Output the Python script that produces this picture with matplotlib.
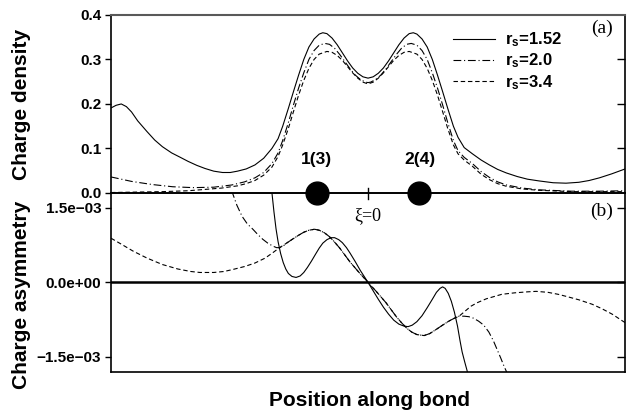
import matplotlib
matplotlib.use('Agg')
from matplotlib import pyplot as plt
from matplotlib.ticker import FixedLocator, FixedFormatter
import numpy as np

plt.rcParams['font.family'] = ['Liberation Sans', 'DejaVu Sans']
plt.rcParams['font.weight'] = 'bold'
plt.rcParams['mathtext.fontset'] = 'custom'
plt.rcParams['mathtext.bf'] = 'Liberation Sans:bold'
plt.rcParams['mathtext.rm'] = 'Liberation Sans:bold'

# charge density, panel (a)
x_a152 = [-5.0, -4.9, -4.8, -4.7, -4.6, -4.48, -4.3, -4.15, -4.0, -3.82, -3.65, -3.5, -3.33, -3.17,
          -3.0, -2.83, -2.68, -2.54, -2.37, -2.2, -2.03, -1.87, -1.75, -1.66, -1.55, -1.45, -1.35,
          -1.25, -1.15, -1.05, -0.95, -0.88, -0.8, -0.7, -0.6, -0.5, -0.4, -0.3, -0.2, -0.1, 0.0,
          0.1, 0.2, 0.3, 0.4, 0.5, 0.6, 0.7, 0.8, 0.88, 0.95, 1.05, 1.15, 1.25, 1.35, 1.45, 1.55,
          1.66, 1.75, 1.87, 2.03, 2.2, 2.36, 2.52, 2.69, 2.9, 3.1, 3.33, 3.6, 3.85, 4.1, 4.3, 4.5,
          4.74, 5.0]
d_a152 = [0.191, 0.197, 0.200, 0.194, 0.182, 0.162, 0.138, 0.119, 0.104, 0.090, 0.080, 0.071, 0.062,
          0.055, 0.049, 0.046, 0.046, 0.049, 0.054, 0.063, 0.078, 0.100, 0.122, 0.150, 0.190, 0.228,
          0.265, 0.300, 0.328, 0.346, 0.357, 0.360, 0.358, 0.348, 0.333, 0.315, 0.297, 0.281, 0.269,
          0.261, 0.258, 0.261, 0.269, 0.281, 0.297, 0.315, 0.333, 0.348, 0.358, 0.360, 0.357, 0.346,
          0.328, 0.300, 0.265, 0.228, 0.190, 0.150, 0.125, 0.102, 0.088, 0.074, 0.063, 0.053, 0.045,
          0.037, 0.031, 0.027, 0.023, 0.022, 0.024, 0.028, 0.034, 0.043, 0.054]

x_a20 = [-5.0, -4.6, -4.2, -3.8, -3.4, -3.0, -2.65, -2.4, -2.2, -2.03, -1.87, -1.75, -1.66, -1.55,
         -1.45, -1.35, -1.25, -1.15, -1.05, -0.95, -0.84, -0.75, -0.65, -0.55, -0.45, -0.35, -0.25,
         -0.15, -0.05, 0.0, 0.05, 0.15, 0.25, 0.35, 0.45, 0.55, 0.65, 0.75, 0.84, 0.95, 1.05, 1.15,
         1.25, 1.35, 1.45, 1.55, 1.66, 1.75, 1.87, 2.03, 2.2, 2.36, 2.52, 2.69, 3.0, 3.33, 3.96,
         4.5, 5.0]
d_a20 = [0.036, 0.026, 0.019, 0.014, 0.012, 0.013, 0.018, 0.025, 0.034, 0.046, 0.066, 0.090, 0.118,
         0.158, 0.198, 0.236, 0.270, 0.300, 0.320, 0.332, 0.336, 0.334, 0.325, 0.311, 0.295, 0.279,
         0.265, 0.255, 0.249, 0.248, 0.249, 0.255, 0.265, 0.279, 0.295, 0.311, 0.325, 0.334, 0.336,
         0.332, 0.320, 0.300, 0.270, 0.236, 0.198, 0.158, 0.118, 0.095, 0.080, 0.066, 0.048, 0.035,
         0.025, 0.018, 0.011, 0.007, 0.004, 0.004, 0.005]

x_a34 = [-5.0, -4.5, -4.0, -3.5, -3.17, -2.85, -2.54, -2.37, -2.2, -2.03, -1.87, -1.75, -1.66, -1.55,
         -1.45, -1.35, -1.25, -1.15, -1.05, -0.95, -0.8, -0.7, -0.6, -0.5, -0.4, -0.3, -0.2, -0.1,
         0.0, 0.1, 0.2, 0.3, 0.4, 0.5, 0.6, 0.7, 0.8, 0.95, 1.05, 1.15, 1.25, 1.35, 1.45, 1.55,
         1.66, 1.75, 1.87, 2.03, 2.2, 2.36, 2.52, 2.69, 3.0, 3.33, 3.96, 4.5, 5.0]
d_a34 = [0.001, 0.002, 0.003, 0.005, 0.008, 0.011, 0.016, 0.021, 0.028, 0.040, 0.058, 0.082, 0.108,
         0.145, 0.183, 0.220, 0.253, 0.280, 0.300, 0.312, 0.318, 0.316, 0.309, 0.298, 0.284, 0.270,
         0.258, 0.249, 0.245, 0.249, 0.258, 0.270, 0.284, 0.298, 0.309, 0.316, 0.318, 0.312, 0.300,
         0.280, 0.253, 0.220, 0.183, 0.145, 0.108, 0.088, 0.074, 0.060, 0.042, 0.030, 0.021, 0.015,
         0.009, 0.006, 0.003, 0.003, 0.003]

# charge asymmetry, panel (b), units of 1e-3
x_b152 = [-1.95, -1.9, -1.87, -1.83, -1.79, -1.75, -1.7, -1.65, -1.6, -1.55, -1.48, -1.4, -1.32,
          -1.25, -1.18, -1.1, -1.02, -0.95, -0.88, -0.8, -0.72, -0.65, -0.57, -0.5, -0.42, -0.35,
          -0.25, -0.15, -0.05, 0.0, 0.1, 0.2, 0.3, 0.4, 0.5, 0.6, 0.7, 0.78, 0.86, 0.95, 1.05,
          1.15, 1.25, 1.33, 1.4, 1.45, 1.5, 1.56, 1.62, 1.68, 1.74, 1.79, 1.83, 1.88, 1.93, 2.0]
d_b152 = [2.9, 2.15, 1.81, 1.42, 1.08, 0.82, 0.58, 0.40, 0.27, 0.18, 0.12, 0.10, 0.13,
          0.20, 0.30, 0.43, 0.57, 0.69, 0.79, 0.86, 0.90, 0.90, 0.86, 0.80, 0.70, 0.59,
          0.42, 0.24, 0.08, 0.0, -0.17, -0.34, -0.50, -0.64, -0.76, -0.84, -0.88, -0.89, -0.86,
          -0.79, -0.67, -0.51, -0.34, -0.20, -0.12, -0.09, -0.12, -0.22, -0.38, -0.60, -0.88,
          -1.18, -1.40, -1.60, -1.79, -2.2]

x_b20 = [-2.85, -2.75, -2.64, -2.55, -2.45, -2.35, -2.24, -2.15, -2.05, -1.95, -1.85, -1.78, -1.72,
         -1.65, -1.6, -1.47, -1.35, -1.25, -1.15, -1.04, -0.95, -0.85, -0.75, -0.65, -0.55, -0.45,
         -0.35, -0.25, -0.15, -0.05, 0.0, 0.05, 0.15, 0.25, 0.35, 0.45, 0.55, 0.65, 0.75, 0.85,
         0.95, 1.09, 1.2, 1.32, 1.45, 1.57, 1.68, 1.77, 1.87, 1.96, 2.05, 2.15, 2.25, 2.35, 2.44,
         2.51, 2.58, 2.65, 2.69, 2.75, 2.82]
d_b20 = [2.7, 2.2, 1.81, 1.55, 1.33, 1.18, 1.07, 0.97, 0.87, 0.79, 0.73, 0.70, 0.70,
         0.73, 0.78, 0.87, 0.95, 1.01, 1.05, 1.07, 1.05, 1.00, 0.92, 0.81, 0.69, 0.55,
         0.41, 0.29, 0.17, 0.06, 0.0, -0.06, -0.17, -0.29, -0.41, -0.55, -0.69, -0.81, -0.92, -1.00,
         -1.05, -1.07, -1.03, -0.95, -0.86, -0.78, -0.72, -0.68, -0.68, -0.69, -0.72, -0.78, -0.86,
         -1.0, -1.18, -1.35, -1.52, -1.70, -1.79, -2.05, -2.4]

x_b34 = [-5.0, -4.8, -4.57, -4.3, -4.0, -3.7, -3.45, -3.27, -3.0, -2.8, -2.63, -2.4, -2.2, -2.0,
         -1.85, -1.72, -1.6, -1.47, -1.35, -1.25, -1.15, -1.04, -0.95, -0.85, -0.75, -0.65, -0.55,
         -0.45, -0.35, -0.25, -0.15, -0.05, 0.0, 0.05, 0.15, 0.25, 0.35, 0.45, 0.55, 0.65, 0.75,
         0.85, 0.95, 1.09, 1.2, 1.32, 1.45, 1.57, 1.68, 1.77, 1.84, 1.92, 2.0, 2.12, 2.3, 2.6,
         2.85, 3.1, 3.27, 3.5, 3.7, 3.85, 4.1, 4.36, 4.55, 4.75, 5.0]
d_b34 = [0.89, 0.77, 0.63, 0.49, 0.36, 0.27, 0.22, 0.20, 0.20, 0.22, 0.26, 0.32, 0.39, 0.49,
         0.60, 0.70, 0.78, 0.87, 0.95, 1.01, 1.05, 1.07, 1.05, 1.00, 0.92, 0.81, 0.69,
         0.55, 0.41, 0.29, 0.17, 0.06, 0.0, -0.06, -0.17, -0.29, -0.41, -0.55, -0.69, -0.81, -0.92,
         -1.00, -1.05, -1.07, -1.03, -0.95, -0.86, -0.78, -0.72, -0.68, -0.62, -0.55, -0.48, -0.41,
         -0.33, -0.24, -0.21, -0.19, -0.18, -0.20, -0.24, -0.28, -0.35, -0.44, -0.53, -0.64, -0.81]

atoms_x = [-1.0, 1.0]
atom_labels = ['1(3)', '2(4)']
labels = [r'$\mathbf{r_s}$=1.52', r'$\mathbf{r_s}$=2.0', r'$\mathbf{r_s}$=3.4']
ticks_a = [0.0, 0.1, 0.2, 0.3, 0.4]
ticks_b = [1.5e-3, 0.0, -1.5e-3]
ticks_b_labels = ['1.5e\u221203', '0.0e+00', '\u22121.5e\u221203']

styles = [dict(ls='-'), dict(ls=(0, (7, 2.5, 1, 2.5))), dict(ls=(0, (4, 2.5)))]

fig = plt.figure(figsize=(6.27, 4.15), dpi=100)
ax1 = fig.add_axes([0.177, 0.535, 0.820, 0.429])
ax2 = fig.add_axes([0.177, 0.104, 0.820, 0.431])
ax1.set_zorder(3)
ax1.patch.set_visible(False)

for xs, ys, st, lab in zip([x_a152, x_a20, x_a34], [d_a152, d_a20, d_a34], styles, labels):
    ax1.plot(xs, ys, color='black', lw=0.8, label=lab, **st)
for xs, ys, st in zip([x_b152, x_b20, x_b34], [d_b152, d_b20, d_b34], styles):
    ax2.plot(xs, np.array(ys) * 1e-3, color='black', lw=0.8, **st)

ax2.axhline(0, color='black', lw=1.8)

ax1.set_xlim(-5, 5)
ax2.set_xlim(-5, 5)
ax1.set_ylim(0, 0.4)
ax2.set_ylim(-1.8e-3, 1.8e-3)

for ax in (ax1, ax2):
    ax.set_xticks([])
    for s in ax.spines.values():
        s.set_linewidth(1.2)
    ax.tick_params(axis='y', which='both', direction='out', length=4, width=1,
                   labelsize=11, pad=3)
ax1.spines['top'].set_color('0.35')
ax1.spines['top'].set_linewidth(1.5)

ax1.yaxis.set_major_locator(FixedLocator(ticks_a))
ax1.set_yticklabels(['%.1f' % t for t in ticks_a], fontweight='bold')
ax2.yaxis.set_major_locator(FixedLocator(ticks_b))
ax2.yaxis.set_major_formatter(FixedFormatter(ticks_b_labels))
for lab in ax2.get_yticklabels():
    lab.set_fontweight('bold')

# inward ticks on the right
for ax, tk in ((ax1, [0.1, 0.2, 0.3]), (ax2, ticks_b)):
    r = ax.secondary_yaxis('right')
    r.set_yticks(tk)
    r.tick_params(direction='in', length=6, width=1, labelright=False)
    r.spines['right'].set_visible(False)

# atoms and centre mark
ax1.scatter(atoms_x, [0, 0], s=270, color='black', zorder=10, clip_on=False)
for xa, t in zip(atoms_x, atom_labels):
    ax1.text(xa, 0.075, t, ha='center', va='center', fontsize=12.5, fontweight='bold')
ax1.axvline(0, ymin=-0.035, ymax=0.03, color='black', lw=1, clip_on=False)
ax1.text(0, -0.05, '\u03be=0', ha='center', va='center', fontsize=13,
         family='Liberation Serif', fontweight='normal', clip_on=False)

ax1.text(0.955, 0.925, '(a)', transform=ax1.transAxes, ha='center', va='center',
         fontsize=14, family='Liberation Serif', fontweight='normal')
ax2.text(0.955, 0.895, '(b)', transform=ax2.transAxes, ha='center', va='center',
         fontsize=14, family='Liberation Serif', fontweight='normal')

ax1.legend(loc='upper left', bbox_to_anchor=(0.643, 0.978), frameon=False, fontsize=12,
           handlelength=2.5, labelspacing=0.15, handletextpad=0.6, borderaxespad=0.3)

fig.text(0.035, 1 - 104 / 415, 'Charge density', rotation=90, ha='center', va='center',
         fontsize=15, fontweight='bold')
fig.text(0.035, 1 - 295 / 415, 'Charge asymmetry', rotation=90, ha='center', va='center',
         fontsize=15, fontweight='bold')
fig.text(0.589, 1 - 400 / 415, 'Position along bond', ha='center', va='center',
         fontsize=15, fontweight='bold')

fig.savefig('out.png', dpi=100)
